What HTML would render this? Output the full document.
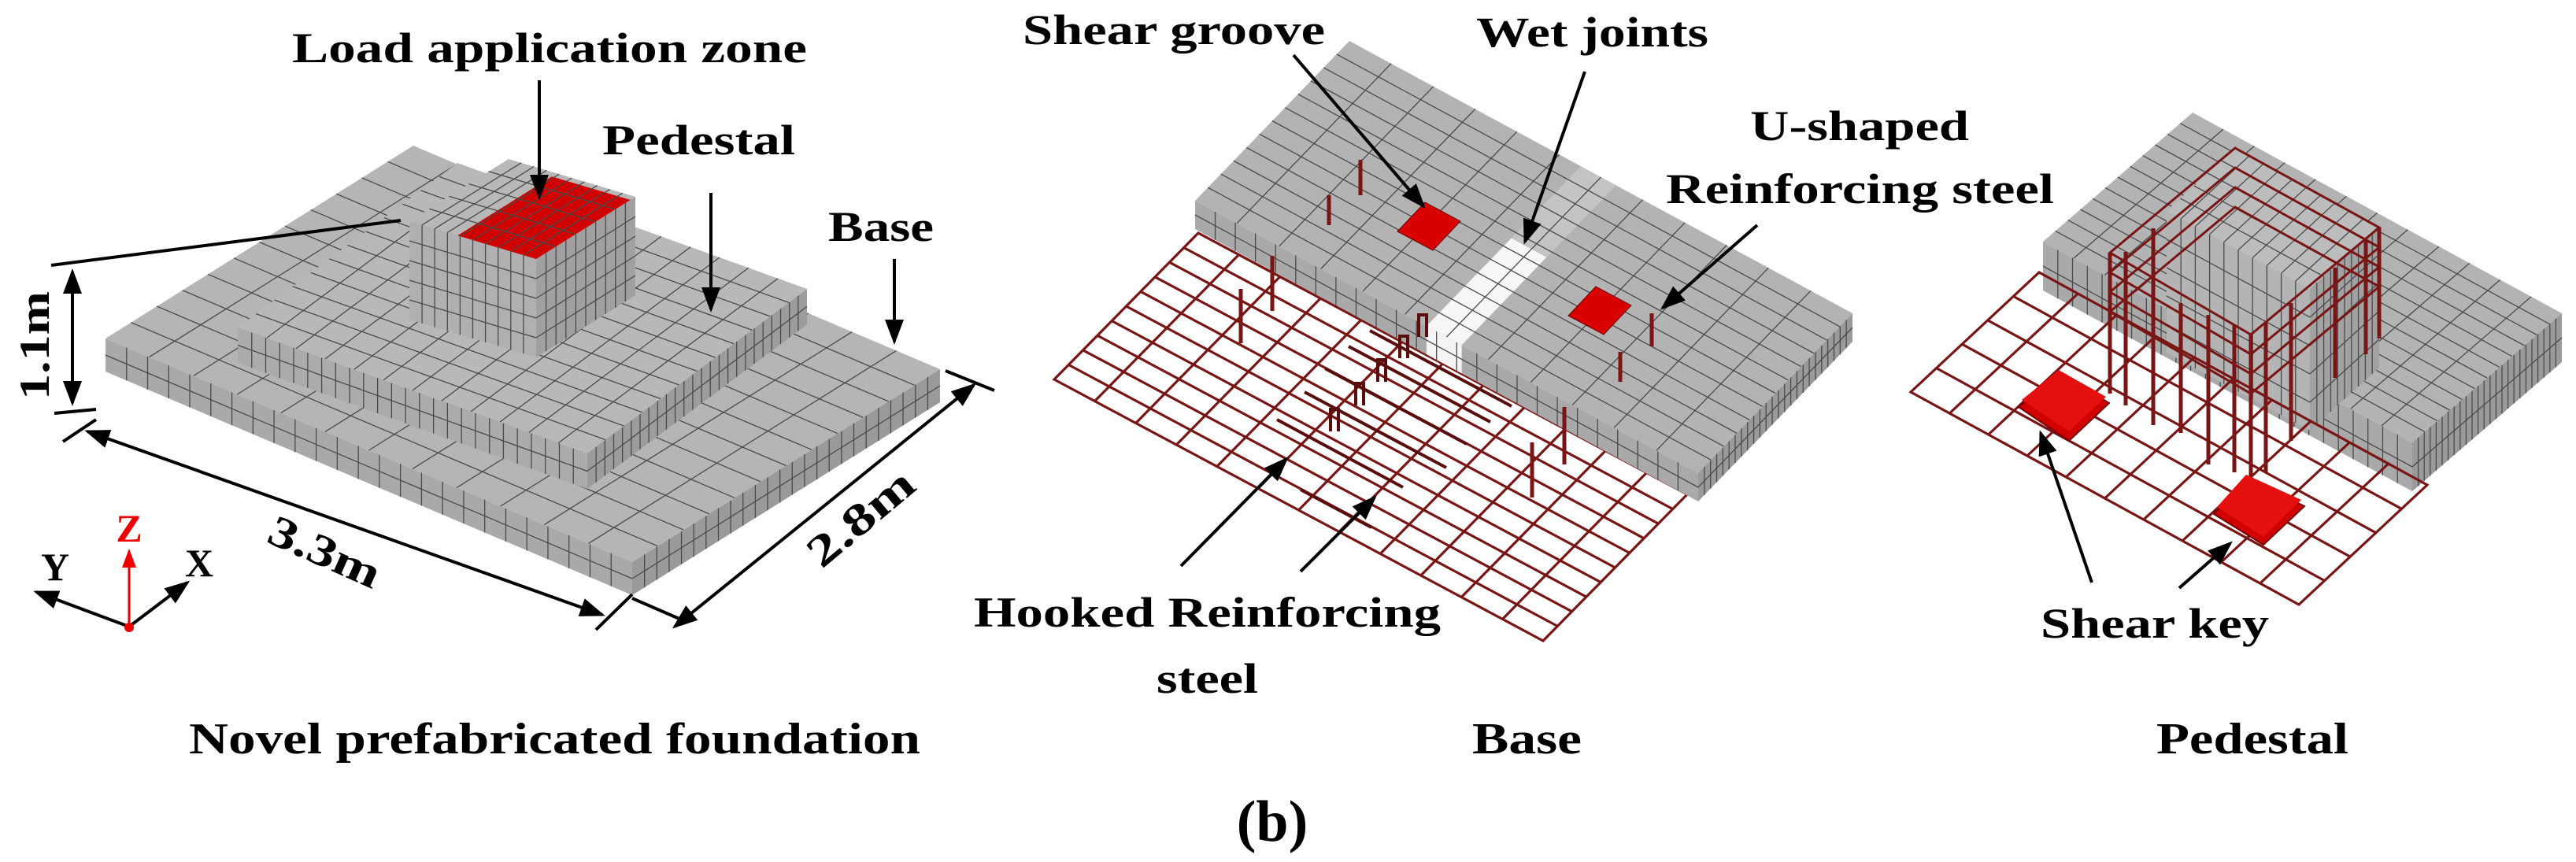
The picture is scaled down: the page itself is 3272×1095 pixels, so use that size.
<!DOCTYPE html>
<html><head><meta charset="utf-8"><style>
html,body{margin:0;padding:0;background:#fff}
svg{display:block}
text{font-family:"Liberation Serif",serif;font-weight:bold;fill:#000}
.g{stroke:#4a4a4a;stroke-width:1.3;fill:none}
.m{stroke:#7a1515;stroke-width:3.2;fill:none}
.a{stroke:#000;stroke-width:4;fill:none}
.rb{stroke:#7a1515;stroke-width:5;fill:none}
</style></head><body>
<svg width="3272" height="1095" viewBox="0 0 3272 1095" xmlns="http://www.w3.org/2000/svg">
<defs>
<marker id="ar" markerWidth="8" markerHeight="8" refX="7" refY="4" orient="auto" markerUnits="strokeWidth"><path d="M0,1 L8,4 L0,7 Z" fill="#000"/></marker>
<marker id="ars" markerWidth="8" markerHeight="8" refX="1" refY="4" orient="auto" markerUnits="strokeWidth"><path d="M8,1 L0,4 L8,7 Z" fill="#000"/></marker>
<marker id="arr" markerWidth="8" markerHeight="8" refX="7" refY="4" orient="auto" markerUnits="strokeWidth"><path d="M0,1 L8,4 L0,7 Z" fill="#e00"/></marker>
<path id="g12" vector-effect="non-scaling-stroke" fill="none" d="M0 .083H1M0 .167H1M0 .25H1M0 .333H1M0 .417H1M0 .5H1M0 .583H1M0 .667H1M0 .75H1M0 .833H1M0 .917H1M.083 0V1M.167 0V1M.25 0V1M.333 0V1M.417 0V1M.5 0V1M.583 0V1M.667 0V1M.75 0V1M.833 0V1M.917 0V1"/>
<path id="gv" vector-effect="non-scaling-stroke" fill="none" d="M0 .5H1M.04 0V1M.08 0V1M.12 0V1M.16 0V1M.2 0V1M.24 0V1M.28 0V1M.32 0V1M.36 0V1M.4 0V1M.44 0V1M.48 0V1M.52 0V1M.56 0V1M.6 0V1M.64 0V1M.68 0V1M.72 0V1M.76 0V1M.8 0V1M.84 0V1M.88 0V1M.92 0V1M.96 0V1"/>
<path id="gc" vector-effect="non-scaling-stroke" fill="none" d="M0 .2H1M0 .4H1M0 .6H1M0 .8H1M.1 0V1M.2 0V1M.3 0V1M.4 0V1M.5 0V1M.6 0V1M.7 0V1M.8 0V1M.9 0V1"/>
<path id="mesh" vector-effect="non-scaling-stroke" fill="none" d="M0 0H1V1H0Z M0 .1H1M0 .2H1M0 .3H1M0 .4H1M0 .5H1M0 .6H1M0 .7H1M0 .8H1M0 .9H1M.083 0V1M.167 0V1M.25 0V1M.333 0V1M.417 0V1M.5 0V1M.583 0V1M.667 0V1M.75 0V1M.833 0V1M.917 0V1"/>
<path id="mesh2" vector-effect="non-scaling-stroke" fill="none" d="M0 0H1V1H0Z M0 .2H1M0 .4H1M0 .6H1M0 .8H1M.1 0V1M.2 0V1M.3 0V1M.4 0V1M.5 0V1M.6 0V1M.7 0V1M.8 0V1M.9 0V1"/>
<path id="sq" stroke="none" d="M0 0H1V1H0Z"/>
</defs>

<!-- ============ LEFT FIGURE ============ -->
<g transform="matrix(669,284,0,42,134,430)"><use href="#sq" fill="#a9a9a9"/><use href="#gv" class="g"/></g>
<g transform="matrix(391,-245,0,42,803,714)"><use href="#sq" fill="#9a9a9a"/><use href="#gv" class="g"/></g>
<g transform="matrix(669,284,391,-245,134,430)"><use href="#sq" fill="#b5b5b5"/><use href="#g12" class="g"/></g>
<g transform="matrix(444,160,0,45,302,416)"><use href="#sq" fill="#ababab"/><use href="#gv" class="g"/></g>
<g transform="matrix(279,-209,0,45,746,576)"><use href="#sq" fill="#9c9c9c"/><use href="#gv" class="g"/></g>
<g transform="matrix(444,160,279,-209,302,416)"><use href="#sq" fill="#b8b8b8"/><use href="#g12" class="g"/></g>
<g transform="matrix(161,48,0,125,520,281)"><use href="#sq" fill="#b0b0b0"/><use href="#gc" class="g"/></g>
<g transform="matrix(126,-79,0,125,681,329)"><use href="#sq" fill="#a0a0a0"/><use href="#gc" class="g"/></g>
<g transform="matrix(161,48,126,-79,520,281)"><use href="#sq" fill="#b8b8b8"/><path d="M.38 0H1V.95H.38Z" fill="#d00000"/><use href="#gc" class="g"/></g>
<text x="371" y="79" font-size="54" textLength="654" lengthAdjust="spacingAndGlyphs">Load application zone</text>
<line x1="685" y1="102" x2="685" y2="250" class="a" marker-end="url(#ar)"/>
<text x="765" y="196" font-size="54" textLength="245" lengthAdjust="spacingAndGlyphs">Pedestal</text>
<line x1="903" y1="245" x2="903" y2="393" class="a" marker-end="url(#ar)"/>
<text x="1052" y="306" font-size="54" textLength="134" lengthAdjust="spacingAndGlyphs">Base</text>
<line x1="1136" y1="329" x2="1136" y2="434" class="a" marker-end="url(#ar)"/>
<line x1="65" y1="337" x2="509" y2="280" class="a"/>
<line x1="92" y1="345" x2="92" y2="512" class="a" marker-start="url(#ars)" marker-end="url(#ar)"/>
<line x1="69" y1="525" x2="122" y2="520" class="a"/>
<text transform="translate(62,439) rotate(-90)" font-size="54" text-anchor="middle" textLength="138" lengthAdjust="spacingAndGlyphs">1.1m</text>
<line x1="80" y1="561" x2="122" y2="533" class="a"/>
<line x1="111" y1="548" x2="765" y2="781" class="a" marker-start="url(#ars)" marker-end="url(#ar)"/>
<line x1="757" y1="800" x2="803" y2="755" class="a"/>
<line x1="803" y1="760" x2="872" y2="790" class="a"/>
<line x1="857" y1="796" x2="1237" y2="489" class="a" marker-start="url(#ars)" marker-end="url(#ar)"/>
<line x1="1201" y1="471" x2="1263" y2="496" class="a"/>
<text transform="translate(405,718) rotate(24)" font-size="56" text-anchor="middle" textLength="150" lengthAdjust="spacingAndGlyphs">3.3m</text>
<text transform="translate(1105,672) rotate(-40)" font-size="56" text-anchor="middle" textLength="160" lengthAdjust="spacingAndGlyphs">2.8m</text>
<line x1="164" y1="796" x2="46" y2="752" class="a" stroke-width="3" marker-end="url(#ar)"/>
<line x1="164" y1="796" x2="238" y2="740" class="a" stroke-width="3" marker-end="url(#ar)"/>
<line x1="164" y1="796" x2="164" y2="700" stroke="#e00" stroke-width="3" marker-end="url(#arr)"/>
<circle cx="164" cy="797" r="6" fill="#e00"/>
<text x="164" y="688" font-size="50" text-anchor="middle" style="fill:#e00">Z</text>
<text x="70" y="737" font-size="50" text-anchor="middle" font-weight="normal">Y</text>
<text x="253" y="732" font-size="50" text-anchor="middle" font-weight="normal">X</text>
<text x="240" y="957" font-size="56" textLength="929" lengthAdjust="spacingAndGlyphs">Novel prefabricated foundation</text>

<!-- ============ MIDDLE FIGURE ============ -->
<g transform="matrix(621,332,183,-186,1339,482)"><use href="#mesh" class="m"/></g>
<g transform="matrix(639,346,0,36,1518,255)"><use href="#sq" fill="#a9a9a9"/><path d="M.46 0H.53V1H.46Z" fill="#f4f4f4"/><use href="#gv" class="g"/></g>
<g transform="matrix(196,-203,0,36,2157,601)"><use href="#sq" fill="#9a9a9a"/><use href="#gv" class="g"/></g>
<g transform="matrix(639,346,196,-203,1518,255)"><use href="#sq" fill="#b3b3b3"/>
<path d="M.46 0H.53V.55H.46Z" fill="#f6f6f6"/><path d="M.46 .55H.53V1H.46Z" fill="#c4c4c4"/>
<use href="#g12" class="g"/></g>
<polygon points="1775,294 1820,318 1855,281 1810,257" fill="#d80000" stroke="#600" stroke-width="1"/>
<polygon points="1992,401 2037,425 2072,388 2027,364" fill="#d80000" stroke="#600" stroke-width="1"/>
<g class="rb">
<line x1="1728" y1="203" x2="1728" y2="248"/><line x1="1688" y1="248" x2="1688" y2="286"/>
<line x1="1616" y1="325" x2="1616" y2="395"/><line x1="1576" y1="367" x2="1576" y2="436"/>
<line x1="2098" y1="398" x2="2098" y2="440"/><line x1="2058" y1="447" x2="2058" y2="485"/>
<line x1="1987" y1="517" x2="1987" y2="590"/><line x1="1946" y1="562" x2="1946" y2="632"/>
</g>
<g stroke="#5a0d0d" stroke-width="4" fill="none">
<path d="M1713,440 l180,96 M1683,468 l180,96 M1657,498 l180,96 M1622,533 l160,86 M1652,622 l90,48 M1740,420 l180,96"/>
<path d="M1812,428 l0,-28 l-10,0 l0,28 M1788,455 l0,-28 l-10,0 l0,28 M1760,485 l0,-28 l-10,0 l0,28 M1732,515 l0,-28 l-10,0 l0,28 M1700,548 l0,-28 l-10,0 l0,28"/>
</g>
<text x="1299" y="56" font-size="54" textLength="384" lengthAdjust="spacingAndGlyphs">Shear groove</text>
<line x1="1643" y1="70" x2="1808" y2="262" class="a" marker-end="url(#ar)"/>
<text x="1875" y="59" font-size="54" textLength="295" lengthAdjust="spacingAndGlyphs">Wet joints</text>
<line x1="2013" y1="91" x2="1937" y2="307" class="a" marker-end="url(#ar)"/>
<text x="2223" y="178" font-size="54" textLength="278" lengthAdjust="spacingAndGlyphs">U-shaped</text>
<text x="2116" y="258" font-size="54" textLength="493" lengthAdjust="spacingAndGlyphs">Reinforcing steel</text>
<line x1="2232" y1="286" x2="2112" y2="391" class="a" marker-end="url(#ar)"/>
<line x1="1500" y1="719" x2="1634" y2="583" class="a" marker-end="url(#ar)"/>
<line x1="1652" y1="726" x2="1746" y2="632" class="a" marker-end="url(#ar)"/>
<text x="1237" y="796" font-size="54" textLength="593" lengthAdjust="spacingAndGlyphs">Hooked Reinforcing</text>
<text x="1469" y="880" font-size="54" textLength="129" lengthAdjust="spacingAndGlyphs">steel</text>
<text x="1870" y="957" font-size="56" textLength="139" lengthAdjust="spacingAndGlyphs">Base</text>
<text x="1616" y="1068" font-size="74" text-anchor="middle" font-weight="normal">(b)</text>

<!-- ============ RIGHT FIGURE ============ -->
<g transform="matrix(469,255,0,62,2595,307)"><use href="#sq" fill="#a9a9a9"/><use href="#gv" class="g"/></g>
<g transform="matrix(190,-164,0,62,3064,562)"><use href="#sq" fill="#9a9a9a"/><use href="#gv" class="g"/></g>
<g transform="matrix(469,255,190,-164,2595,307)"><use href="#sq" fill="#b3b3b3"/><use href="#g12" class="g"/></g>
<g transform="matrix(182,99,0,180,2752,268)"><use href="#sq" fill="#b4b4b4"/><use href="#gc" class="g"/></g>
<g transform="matrix(88,-80,0,180,2934,367)"><use href="#sq" fill="#a2a2a2"/><use href="#gc" class="g"/></g>
<g transform="matrix(182,99,87,-80,2752,268)"><use href="#sq" fill="#bcbcbc"/><use href="#gc" class="g"/></g>
<g transform="matrix(493,270,163,-152,2427,498)"><use href="#mesh2" class="m"/></g>
<g stroke="#7a1515" stroke-width="3" fill="none">
<polygon points="2680,321 2859,425 3022,289 2839,188"/>
<polygon points="2680,346 2859,450 3022,314 2839,213"/>
<polygon points="2680,371 2859,475 3022,339 2839,238"/>
<polygon points="2680,396 2859,500 3022,364 2839,263"/>
</g>
<g class="rb" stroke-width="4">
<line x1="2680" y1="321" x2="2680" y2="500"/><line x1="2700" y1="320" x2="2700" y2="515"/>
<line x1="2735" y1="290" x2="2735" y2="540"/>
<line x1="2770" y1="385" x2="2770" y2="550"/><line x1="2805" y1="400" x2="2805" y2="590"/>
<line x1="2838" y1="413" x2="2838" y2="600"/><line x1="2859" y1="425" x2="2859" y2="610"/>
<line x1="2878" y1="410" x2="2878" y2="600"/><line x1="2910" y1="385" x2="2910" y2="560"/>
<line x1="2966" y1="340" x2="2966" y2="480"/><line x1="3005" y1="305" x2="3005" y2="450"/>
<line x1="3022" y1="289" x2="3022" y2="430"/>
</g>
<polygon points="2564,517 2615,473 2679,512 2628,560" fill="#d00000" stroke="#700" stroke-width="2"/>
<polygon points="2568,508 2615,470 2675,504 2628,548" fill="#e41010"/>
<polygon points="2812,653 2853,608 2927,643 2875,692" fill="#d00000" stroke="#700" stroke-width="2"/>
<polygon points="2816,644 2853,603 2923,635 2875,682" fill="#e41010"/>
<line x1="2657" y1="740" x2="2592" y2="550" class="a" marker-end="url(#ar)"/>
<line x1="2768" y1="747" x2="2833" y2="690" class="a" marker-end="url(#ar)"/>
<text x="2592" y="810" font-size="54" textLength="290" lengthAdjust="spacingAndGlyphs">Shear key</text>
<text x="2739" y="957" font-size="56" textLength="244" lengthAdjust="spacingAndGlyphs">Pedestal</text>
</svg>
</body></html>
